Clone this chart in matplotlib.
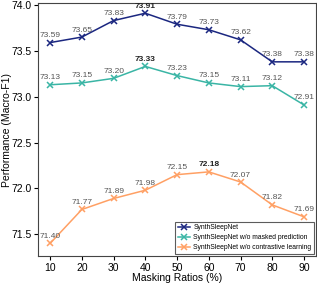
import matplotlib
matplotlib.use('Agg')
import matplotlib.pyplot as plt

plt.rcParams['font.family'] = ['Liberation Sans', 'DejaVu Sans']

ratios = [10, 20, 30, 40, 50, 60, 70, 80, 90]
full = [73.59, 73.65, 73.83, 73.91, 73.79, 73.73, 73.62, 73.38, 73.38]
no_mask = [73.13, 73.15, 73.20, 73.33, 73.23, 73.15, 73.11, 73.12, 72.91]
no_contrast = [71.40, 71.77, 71.89, 71.98, 72.15, 72.18, 72.07, 71.82, 71.69]

names = ['SynthSleepNet', 'SynthSleepNet w/o masked prediction',
         'SynthSleepNet w/o contrastive learning']
colors = ['#1b2780', '#3ab5a5', '#ffa064']

fig = plt.figure(figsize=(3.17, 2.86), dpi=100)
ax = fig.add_axes([0.12, 0.104, 0.877, 0.885])

for vals, name, c in zip([full, no_mask, no_contrast], names, colors):
    ax.plot(ratios, vals, color=c, marker='x', markersize=4.5, linewidth=1.1,
            markeredgewidth=1.1, label=name)
    best = max(vals)
    for x, v in zip(ratios, vals):
        ax.annotate(f'{v:.2f}', (x, v), xytext=(0, 2.5), textcoords='offset points',
                    ha='center', va='bottom', fontsize=6,
                    color='#222222' if v == best else '#555555',
                    fontweight='bold' if v == best else 'normal')

ax.set_xlim(6.2, 93.8)
ax.set_ylim(71.26, 74.02)
ax.set_xticks(ratios)
ax.set_yticks([71.5, 72.0, 72.5, 73.0, 73.5, 74.0])
ax.tick_params(labelsize=7.5, length=3, width=0.8, pad=1.5)
ax.set_xlabel('Masking Ratios (%)', fontsize=7.5, labelpad=0.5)
ax.set_ylabel('Performance (Macro-F1)', fontsize=7.5, labelpad=0)
for s in ax.spines.values():
    s.set_linewidth(0.8)
    s.set_color('#444444')

leg = ax.legend(loc='lower right', fontsize=4.9, frameon=True, fancybox=False,
                edgecolor='#333333', handlelength=1.8, handletextpad=0.5,
                borderpad=0.4, labelspacing=0.45, borderaxespad=0.3)
leg.get_frame().set_linewidth(0.8)

fig.savefig('out.png', dpi=100)
